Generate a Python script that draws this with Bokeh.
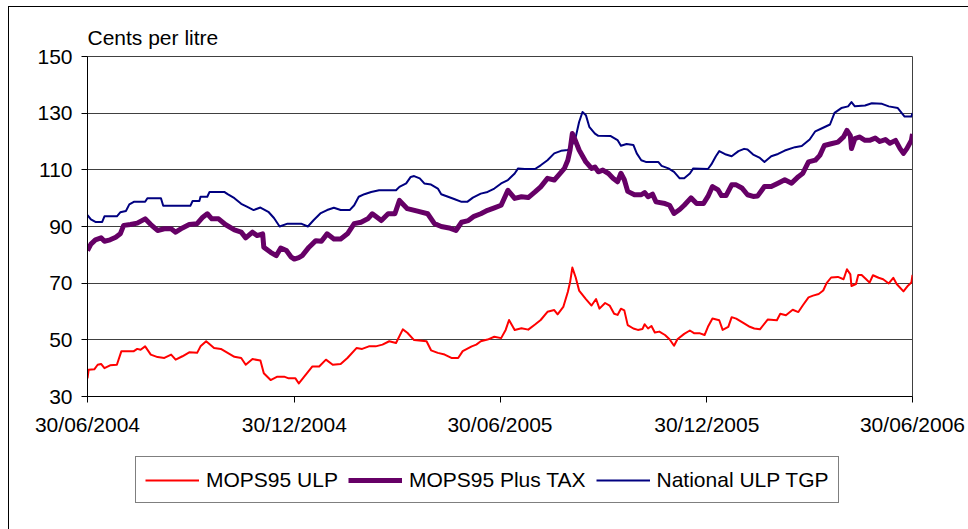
import pandas as pd
from bokeh.plotting import figure
from bokeh.layouts import column
from bokeh.models import Legend, LegendItem, FixedTicker, Range1d
from bokeh.embed import file_html
from bokeh.resources import INLINE

# (days since 30/06/2004, cents per litre)
mops_ulp = [(0,36.4),(1,39.4),(6,39.6),(9,41.2),(12,41.5),(15,40),(20,41),(26,41.2),(30,46),(41,46),(44,46.8),(47,46.5),(51,47.7),(56,44.8),(62,43.9),(68,43.6),(74,44.8),(78,43),(84,44.2),(90,45.6),(97,45.4),(100,47.7),(105,49.5),(112,47.1),(118,46.8),(124,45.4),(130,44),(136,43.6),(140,41.2),(146,43.2),(153,42.7),(156,38.2),(162,35.8),(168,37),(174,37),(178,36.4),(184,36.4),(187,34.6),(193,37.6),(199,40.6),(205,40.6),(211,43),(217,41.2),(224,41.5),(230,43.6),(238,47.1),(243,46.8),(249,47.7),(255,47.7),(261,48.3),(267,49.5),(273,48.9),(279,53.7),(283,52.5),(289,49.9),(300,49.5),(304,46.3),(310,45.4),(316,44.8),(322,43.6),(328,43.6),(332,46),(340,47.7),(344,48.3),(348,49.5),(354,50.1),(360,51.1),
            (366,50.6),(370,53.5),(373,57),(378,53.5),(384,54.1),(390,53.6),(396,55.4),(401,57),(407,59.9),(413,60.5),(416,59),(421,61.6),(425,66.9),(427,70.3),(429,75.5),(432,72),(435,67.4),(441,64.4),(446,62.1),(450,64.4),(453,61),(458,63),(462,62.1),(466,59.2),(469,58.8),
            (472,61),(475,60.4),(478,55.2),(483,54),(487,53.5),(491,53.8),(493,55.5),(496,54),(499,54.9),(502,52.6),(506,52.9),(511,51.7),(515,50.2),(519,47.9),(522,50.2),(528,52.1),(533,53.3),(537,52.3),(542,52.3),(546,51.7),(549,54.6),(553,57.5),(559,56.9),(562,53.5),(567,54.6),(570,58),(574,57.5),(581,55.8),(586,54.6),(590,54),(595,53.7),(602,57.2),(610,56.9),(613,59.2),(618,58.7),(624,60.6),(629,59.8),(633,62.2),(638,65),(642,65.6),(647,66.2),(651,67.4),(654,70),(658,72),(664,72.2),(669,71.4),(672,74.9),(675,73.1),(676,69),(680,69.7),(682,72.9),(685,72.9),(689,71.4),(692,70.2),(695,72.8),(700,71.9),(704,71.4),(709,69.9),(713,71.9),(716,69.7),(722,67.1),(726,69.1),(729,70.2),(730,72.9)]

mops_tax = [(0,81.5),(3,83.8),(7,85.3),(12,86),(15,84.8),(20,85.3),(25,86.2),(29,87.4),(32,90.4),(38,90.7),(44,91.2),(51,92.7),(56,90.7),(62,88.6),(68,89.2),(74,89.2),(78,88),(84,89.5),(90,90.7),(97,91),(102,93.3),(106,94.5),(110,92.7),(116,92.7),(122,90.7),(130,88.8),(136,88),(140,86),(146,88),(150,86.8),(155,87.4),(156,82.7),(162,80.9),(167,79.7),(171,82.4),(176,81.5),(180,79.3),(183,78.5),(187,79),(190,79.7),(196,82.7),(202,85),(207,84.8),(212,87.4),(218,85.6),(224,85.6),(230,87.4),(236,91),(242,91.5),(248,92.7),(252,94.5),(260,92.1),(266,94.5),(272,94.5),(276,99.2),(283,96.3),(292,95.4),(301,94.5),(307,91),(313,90),(320,89.5),(326,88.6),(331,91.5),(337,92.1),(342,93.6),(348,94.5),(354,95.7),(360,96.6),
            (366,97.5),(372,102.8),(378,99.9),(384,100.5),(390,100.2),(396,102.2),(401,104),(407,107),(413,106.4),(418,108.7),(422,110.5),(425,113.4),(427,117),(429,122.8),(431,121),(435,117),(441,112.8),(446,110.5),(449,111),(452,109.3),(456,109.9),(461,108.7),(465,107),(469,105.8),
            (472,108.8),(475,106.5),(478,102.4),(484,101.2),(490,101.2),(493,102),(496,100.5),(500,101.4),(503,98.7),(511,98.1),(515,97.5),(519,94.6),(524,96),(528,97.5),(534,100.1),(539,98.1),(545,98.1),(549,100.6),(553,104.1),(558,102.9),(561,100.9),(565,100.9),(570,104.7),(574,104.7),(579,103.6),(584,101.2),(589,100.6),(593,100.8),(599,104.1),(605,104.1),(611,105.3),(617,106.5),(623,105.3),(629,107.6),(633,108.8),(638,112.8),(644,113.4),(648,115.1),(652,118.6),(658,119.2),(664,119.8),(669,121.6),(672,123.9),(675,122.1),(676,117.5),(679,121),(683,121.6),(688,120.4),(692,120.4),(697,121.2),(701,120),(706,120.7),(710,119.4),(715,120.4),(719,117.5),(722,115.8),(725,117.5),(729,120.4),(730,122.7)]

national_tgp = [(0,94.0),(3,92.5),(7,91.6),(13,91.6),(15,93.6),(26,93.6),(29,95.0),(34,95.5),(37,97.8),(41,98.7),(51,98.7),(53,100.0),(65,100.0),(67,97.3),(91,97.3),(93,99.0),(99,99.0),(100,100.5),(106,100.5),(108,102.2),(121,102.2),(124,101.4),(130,100.0),(136,98.0),(141,97.0),(147,95.8),(153,96.7),(160,95.2),(165,93.0),(170,90.0),(177,91.0),(189,91.0),(195,90.0),(200,92.2),(206,94.6),(212,95.8),(218,96.6),
                (224,95.8),(232,95.8),(236,97.5),(240,100.5),(245,101.4),(251,102.2),(258,102.8),(273,102.8),(276,104),(282,105.2),(286,107.5),(289,107.8),(294,107),(298,105.2),(304,104.8),(310,103.4),(313,101.4),(319,100.5),(325,99.6),(331,98.7),(336,98.7),(341,100.2),(348,101.6),(354,102.2),(360,103.4),(366,105.2),(372,106.4),(378,108.7),(381,110.5),(387,110.3),(396,110.3),(401,111.6),(407,113.4),(413,115.8),(419,116.7),(425,117),(428,118.1),(432,121.6),(435,126.9),(438,130.4),(441,129.3),(444,125.2),(449,122.8),(452,122),(463,121.9),(469,120.5),
                (472,118.5),(477,119.1),(483,118.8),(486,115.8),(490,113.4),(494,112.8),(505,112.8),(508,111.4),(514,110.5),(519,109.3),(524,107),(528,107),(533,108.7),(536,110.5),(549,110.3),(552,111.9),(556,114.8),(559,116.6),(565,115.4),(570,114.8),(576,116.6),(581,117.4),(584,117.2),(589,115.4),(595,114.2),(599,112.8),(605,114.8),(611,115.6),(617,116.8),(626,118),(632,118.4),(639,120.7),(644,123.6),(649,124.5),(657,126),(661,130.1),(667,131.8),(673,132.4),(676,133.9),(679,132.4),(688,132.7),(694,133.5),(703,133.3),(709,132.4),(717,131.8),(723,128.8),(729,128.8),(730,130)]

series_names = ["MOPS95 ULP", "MOPS95 Plus TAX", "National ULP TGP"]
series_colors = ["#FF0000", "#660066", "#000080"]
series_widths = [2, 5, 2]
x_tick_labels = ["30/06/2004", "30/12/2004", "30/06/2005", "30/12/2005", "30/06/2006"]
y_ticks = [30, 50, 70, 90, 110, 130, 150]

start = pd.to_datetime(x_tick_labels[0], dayfirst=True)
x_ticks = [(pd.to_datetime(s, dayfirst=True) - start).days for s in x_tick_labels]

FONT = "Liberation Sans"

p = figure(width=959, height=440, x_range=Range1d(x_ticks[0], x_ticks[-1]), y_range=Range1d(30, 150),
           output_backend="svg", toolbar_location=None,
           min_border_left=78, min_border_right=56, min_border_top=49, min_border_bottom=51,
           title="Cents per litre")

p.title.text_font = FONT
p.title.text_font_size = "21px"
p.title.text_font_style = "normal"
p.title.text_color = "black"
p.title.align = "left"
p.title.offset = 0
p.title.standoff = 15

p.outline_line_color = "#404040"
p.outline_line_width = 1
p.xgrid.visible = False
p.ygrid.grid_line_color = "#404040"
p.ygrid.grid_line_width = 1

p.yaxis.ticker = FixedTicker(ticks=y_ticks)
p.xaxis.ticker = FixedTicker(ticks=x_ticks)
p.xaxis.major_label_overrides = {t: s for t, s in zip(x_ticks, x_tick_labels)}
for ax in (p.xaxis, p.yaxis):
    ax.axis_line_color = "black"
    ax.major_tick_line_color = "black"
    ax.major_tick_in = 0
    ax.major_tick_out = 6
    ax.minor_tick_line_color = None
    ax.major_label_text_font = FONT
    ax.major_label_text_font_size = "21px"
    ax.major_label_text_color = "black"
p.yaxis.major_label_standoff = 9
p.xaxis.major_label_standoff = 10

def xy(pairs):
    return [d for d, _ in pairs], [v for _, v in pairs]

series_xy = [xy(mops_ulp), xy(mops_tax), xy(national_tgp)]
for i in (0, 2, 1):
    sx, sy = series_xy[i]
    p.line(sx, sy, line_color=series_colors[i], line_width=series_widths[i], line_join="round")

# legend strip below the chart (its frame is aligned with the chart's frame);
# its copies of the series lie outside its own ranges, so only the legend shows
q = figure(width=959, height=82, x_range=Range1d(0, 1), y_range=Range1d(0, 1),
           output_backend="svg", toolbar_location=None,
           min_border_left=0, min_border_right=0, min_border_top=0, min_border_bottom=0)
q.axis.visible = False
q.grid.visible = False
q.outline_line_color = None
items = []
for i, name in enumerate(series_names):
    sx, sy = series_xy[i]
    r = q.line(sx, sy, line_color=series_colors[i], line_width=series_widths[i])
    items.append(LegendItem(label=name, renderers=[r]))

legend = Legend(items=items, location=(48, 26), orientation="horizontal",
                border_line_color="black", border_line_width=1,
                background_fill_color="white", background_fill_alpha=1,
                padding=9, spacing=10, margin=0,
                glyph_width=54, glyph_height=20, label_standoff=7,
                label_text_font=FONT, label_text_font_size="21px", label_text_color="black",
                label_height=27)
q.add_layout(legend)

layout = column(p, q, spacing=0)
layout.styles = {"margin-left": "8px", "margin-top": "6px",
                 "border-top": "1px solid #000", "border-left": "1px solid #000"}

open("out.html", "w").write(file_html(layout, INLINE))
